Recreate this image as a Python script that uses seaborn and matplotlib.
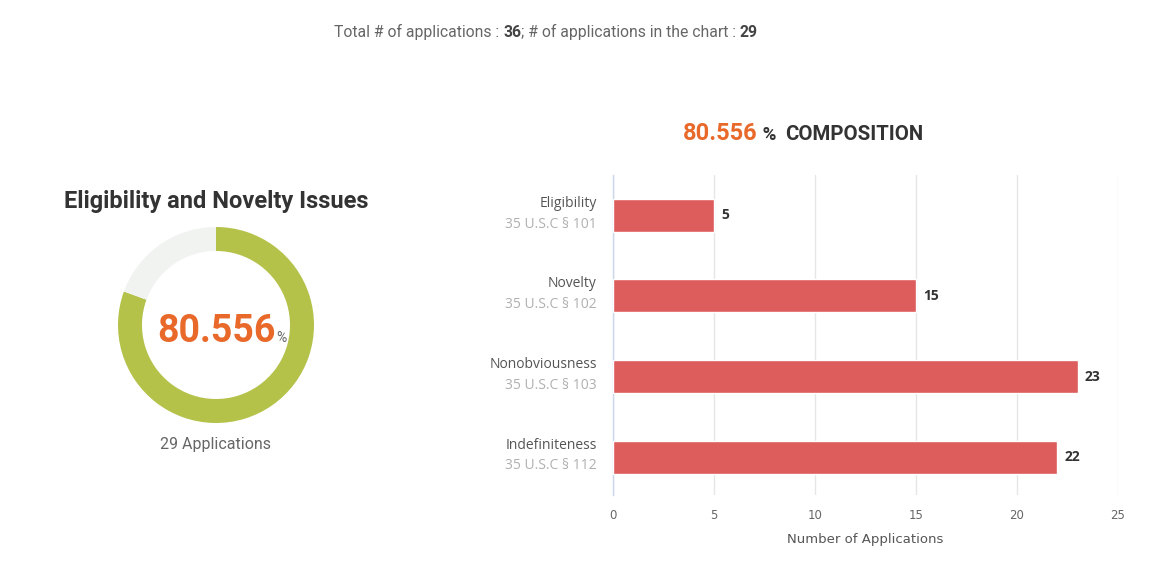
import matplotlib
matplotlib.use("Agg")
import matplotlib.pyplot as plt
import seaborn as sns
import pandas as pd

# data
total_apps = 36
chart_apps = 29
pct_text = "80.556"
categories = ["Eligibility", "Novelty", "Nonobviousness", "Indefiniteness"]
statutes = ["35 U.S.C § 101", "35 U.S.C § 102", "35 U.S.C § 103", "35 U.S.C § 112"]
counts = [5, 15, 23, 22]
x_ticks = [0, 5, 10, 15, 20, 25]

sns.set_theme(style="white")
plt.rcParams["font.family"] = ["Roboto", "DejaVu Sans"]

ORANGE = "#e8692a"
GREEN = "#b5c24a"
LIGHT = "#f1f3f1"
BAR = "#dd5c5c"
DARK = "#333333"

fig = plt.figure(figsize=(11.51, 5.75), dpi=100)
fig.patch.set_facecolor("white")

# overlay axes for free text
ax0 = fig.add_axes([0, 0, 1, 1])
ax0.set_axis_off()
ax0.set_xlim(0, 1)
ax0.set_ylim(0, 1)

# header line with bold numbers
parts = [("Total # of applications : ", "normal"), (str(total_apps), "bold"),
         ("; # of applications in the chart : ", "normal"), (str(chart_apps), "bold")]
t = ax0.text(334 / 1151, 1 - 32 / 575, parts[0][0], fontsize=11.3, color="#666666",
             fontweight=parts[0][1], va="center", ha="left")
for txt, w in parts[1:]:
    t = ax0.annotate(txt, xy=(1, 0), xycoords=t, va="bottom", ha="left",
                     fontsize=11.3, fontweight=w,
                     color="#444444" if w == "bold" else "#666666")

# donut
ax_d = fig.add_axes([116 / 1151, 1 - 425 / 575, 200 / 1151, 200 / 575])
ax_d.pie([chart_apps, total_apps - chart_apps], colors=[GREEN, LIGHT], startangle=90,
         counterclock=False, radius=0.98, wedgeprops=dict(width=0.24, linewidth=0))
ax_d.set_xlim(-1, 1)
ax_d.set_ylim(-1, 1)
ax_d.text(0.0, -0.07, pct_text, fontsize=27, fontweight="bold", color=ORANGE,
          ha="center", va="center")
ax_d.text(0.65, -0.13, "%", fontsize=10, color="#666666", ha="center", va="center")

ax0.text(216 / 1151, 1 - 201 / 575, "Eligibility and Novelty Issues", fontsize=17,
         fontweight="bold", color=DARK, ha="center", va="center")
ax0.text(216 / 1151, 1 - 445 / 575, f"{chart_apps} Applications", fontsize=11.5,
         color="#666666", ha="center", va="center")

# composition title
t = ax0.text(683 / 1151, 1 - 133 / 575, pct_text, fontsize=17, fontweight="bold",
             color=ORANGE, ha="left", va="center")
t = ax0.annotate(" %  ", xy=(1, 0), xycoords=t, va="bottom", ha="left",
                 fontsize=13.5, fontweight="bold", color=DARK)
t = ax0.annotate("COMPOSITION", xy=(1, 0), xycoords=t, va="bottom", ha="left",
                 fontsize=14.7, fontweight="bold", color=DARK)

# bar chart
df = pd.DataFrame({"category": categories, "count": counts})
ax = fig.add_axes([613 / 1151, 1 - 495 / 575, 505 / 1151, 320 / 575])
sns.barplot(data=df, x="count", y="category", orient="h", color=BAR, width=0.41,
            saturation=1, ax=ax, zorder=3)
ax.set_xlim(0, 25)
ax.set_ylim(3.47, -0.5)
ax.set_xticks(x_ticks)
ax.set_xticklabels([str(v) for v in x_ticks], fontsize=8.5, color="#666666",
                   family="DejaVu Sans")
ax.tick_params(axis="x", length=0, pad=10)
ax.tick_params(axis="y", length=0)
ax.set_yticklabels([])
ax.set_ylabel("")
ax.set_xlabel("Number of Applications", fontsize=9.5, color="#555555",
              family="DejaVu Sans", labelpad=8)
ax.grid(axis="x", color="#e6e6e6", linewidth=1, zorder=0)
for s in ["top", "right", "bottom"]:
    ax.spines[s].set_visible(False)
ax.spines["left"].set_color("#ccd6eb")
ax.spines["left"].set_linewidth(1)

for i, (cat, code, v) in enumerate(zip(categories, statutes, counts)):
    ax.text(-0.032, i - 0.15, cat, transform=ax.get_yaxis_transform(), ha="right",
            va="center", fontsize=10, color="#555555", family=["Open Sans", "DejaVu Sans"])
    ax.text(-0.032, i + 0.11, code, transform=ax.get_yaxis_transform(), ha="right",
            va="center", fontsize=10, color="#b0b0b0", family=["Open Sans", "DejaVu Sans"])
    ax.text(v + 0.35, i, str(v), ha="left", va="center", fontsize=10,
            fontweight="bold", color=DARK, family=["Open Sans", "DejaVu Sans"])

fig.savefig("out.png", dpi=100, facecolor="white")
